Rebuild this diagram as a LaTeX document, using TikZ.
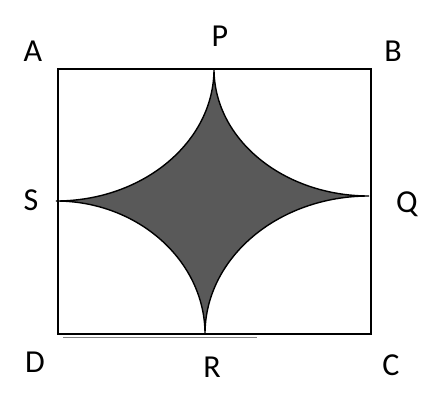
\documentclass[tikz,border=0pt]{standalone}
\usepackage{fontspec}
\setmainfont{Carlito}
\begin{document}
\begin{tikzpicture}[x=1pt,y=-1pt,
  lbl/.style={font=\fontsize{32}{38}\selectfont,inner sep=0pt},
  frame/.style={draw=black,line width=2pt},
  arcline/.style={draw=black,line width=1.4pt,fill=black!65,line join=miter}]
\useasboundingbox (0,0) rectangle (442,412);
\coordinate (A) at (58,69);
\coordinate (B) at (371,69);
\coordinate (C) at (371,334);
\coordinate (D) at (58,334);
\coordinate (P) at (214,69);
\coordinate (Q) at (369,196);
\coordinate (R) at (205,334);
\coordinate (S) at (56,201);
\draw[frame] (A) rectangle (C);
\draw[black!50,line width=0.6pt] (63,337.5) -- (257,337.5);
\draw[arcline]
  (P) .. controls (214,139) and (283,196) .. (Q)
      .. controls (278,196) and (205,258) .. (R)
      .. controls (205,261) and (138,201) .. (S)
      .. controls (143,201) and (214,142) .. (P) -- cycle;
\node[lbl] (lA) at (33,51) {A};
\node[lbl] (lP) at (220,36) {P};
\node[lbl] (lB) at (393,51) {B};
\node[lbl] (lS) at (31,200) {S};
\node[lbl,anchor=base] (lQ) at (407,212) {Q};
\node[lbl] (lD) at (35,362) {D};
\node[lbl] (lR) at (212,367) {R};
\node[lbl] (lC) at (391,365) {C};
\end{tikzpicture}
\end{document}
